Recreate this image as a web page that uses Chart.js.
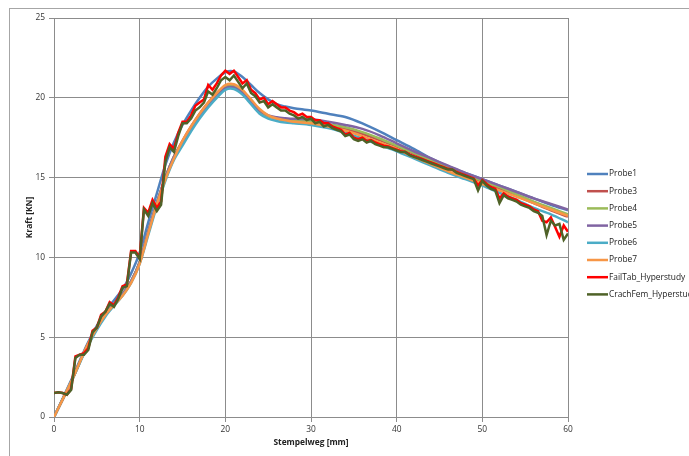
<!DOCTYPE html>
<html>
<head>
<meta charset="utf-8">
<script src="https://cdn.jsdelivr.net/npm/chart.js@4.4.1/dist/chart.umd.min.js"></script>
<style>
    html, body { margin: 0; padding: 0; background: #fff; }
    canvas { display: block; }
</style>
</head>
<body>
<canvas id="kraftChart" width="689" height="456"></canvas>
<script>
// Stempelweg [mm] for the smooth test curves
const weg = [0, 2, 4, 6, 8, 9, 10, 11, 12, 13, 14, 15, 16, 17, 18, 19, 20, 21, 22, 23, 24, 25, 26, 27, 28,
    30, 32, 34, 36, 38, 40, 42, 44, 46, 48, 50, 52, 54, 56, 58, 60];

const probe1 = [0, 2.3, 4.7, 6.6, 8.0, 9.0, 10.3, 12.2, 14.0, 15.8, 17.2, 18.3, 19.2, 20.0, 20.7, 21.2, 21.6, 21.65, 21.3, 20.8, 20.3, 19.9, 19.6, 19.45, 19.35,
    19.2, 19.0, 18.8, 18.4, 17.9, 17.35, 16.8, 16.2, 15.7, 15.3, 14.9, 14.5, 14.1, 13.7, 13.3, 12.95];
const probe3 = [0, 2.2, 4.6, 6.4, 7.7, 8.5, 9.7, 11.6, 13.4, 15.0, 16.3, 17.3, 18.2, 19.0, 19.7, 20.3, 20.7, 20.75, 20.4, 19.8, 19.2, 18.85, 18.7, 18.6, 18.55,
    18.5, 18.3, 18.05, 17.75, 17.35, 16.95, 16.5, 16.05, 15.6, 15.15, 14.75, 14.3, 13.85, 13.4, 12.95, 12.55];
const probe4 = [0, 2.2, 4.6, 6.4, 7.7, 8.5, 9.7, 11.6, 13.4, 15.0, 16.3, 17.2, 18.1, 18.9, 19.6, 20.2, 20.65, 20.7, 20.35, 19.75, 19.15, 18.85, 18.7, 18.62, 18.58,
    18.55, 18.35, 18.15, 17.85, 17.45, 17.0, 16.55, 16.1, 15.65, 15.2, 14.8, 14.4, 13.95, 13.5, 13.1, 12.7];
const probe5 = [0, 2.2, 4.6, 6.4, 7.7, 8.5, 9.7, 11.6, 13.4, 15.0, 16.3, 17.2, 18.1, 18.9, 19.6, 20.2, 20.6, 20.65, 20.3, 19.75, 19.2, 18.9, 18.78, 18.72, 18.68,
    18.65, 18.5, 18.3, 18.05, 17.65, 17.15, 16.65, 16.2, 15.75, 15.3, 14.9, 14.5, 14.1, 13.7, 13.35, 13.0];
const probe6 = [0, 2.2, 4.5, 6.3, 7.6, 8.4, 9.6, 11.4, 13.2, 14.8, 16.1, 17.0, 17.9, 18.7, 19.4, 20.0, 20.5, 20.55, 20.2, 19.6, 19.0, 18.7, 18.55, 18.45, 18.4,
    18.3, 18.1, 17.8, 17.45, 17.05, 16.65, 16.2, 15.75, 15.3, 14.9, 14.5, 14.05, 13.6, 13.1, 12.7, 12.2];
const probe7 = [0, 2.2, 4.6, 6.4, 7.6, 8.4, 9.6, 11.5, 13.3, 14.9, 16.2, 17.3, 18.2, 19.0, 19.7, 20.3, 20.8, 20.85, 20.5, 19.9, 19.3, 18.9, 18.7, 18.6, 18.5,
    18.4, 18.2, 17.95, 17.6, 17.2, 16.8, 16.3, 15.85, 15.4, 15.0, 14.6, 14.2, 13.8, 13.4, 13.0, 12.6];

// Stempelweg [mm] for the two simulation curves
const wegSim = [
    0, 0.5, 1, 1.5, 2, 2.5, 3, 3.5, 4, 4.5,
    5, 5.5, 6, 6.5, 7, 7.5, 8, 8.5, 9, 9.5,
    10, 10.5, 11, 11.5, 12, 12.5, 13, 13.5, 14, 14.5,
    15, 15.5, 16, 16.5, 17, 17.5, 18, 18.5, 19, 19.5,
    20, 20.5, 21, 21.5, 22, 22.5, 23, 23.5, 24, 24.5,
    25, 25.5, 26, 26.5, 27, 27.5, 28, 28.5, 29, 29.5,
    30, 30.5, 31, 31.5, 32, 32.5, 33, 33.5, 34, 34.5,
    35, 35.5, 36, 36.5, 37, 37.5, 38, 38.5, 39, 39.5,
    40, 40.5, 41, 41.5, 42, 42.5, 43, 43.5, 44, 44.5,
    45, 45.5, 46, 46.5, 47, 47.5, 48, 48.5, 49, 49.5,
    50, 50.5, 51, 51.5, 52, 52.5, 53, 53.5, 54, 54.5,
    55, 55.5, 56, 56.5, 57, 57.5, 58, 58.5, 59, 59.5,
    60];

const failTab = [
    1.5, 1.55, 1.5, 1.4, 1.75, 3.8, 3.9, 4.0, 4.3, 5.4,
    5.6, 6.4, 6.6, 7.2, 7.0, 7.5, 8.2, 8.3, 10.4, 10.4,
    10.0, 13.1, 12.8, 13.6, 13.1, 13.5, 16.3, 17.1, 16.8, 17.8,
    18.5, 18.5, 18.9, 19.5, 19.7, 19.9, 20.8, 20.5, 20.9, 21.4,
    21.7, 21.5, 21.7, 21.3, 20.9, 21.1, 20.5, 20.3, 19.9, 20.0,
    19.6, 19.8, 19.6, 19.4, 19.4, 19.2, 19.1, 18.9, 19.0, 18.8,
    18.8, 18.6, 18.6, 18.4, 18.4, 18.2, 18.1, 18.0, 17.7, 17.8,
    17.5, 17.4, 17.5, 17.3, 17.35, 17.2, 17.1, 17.0, 16.95, 16.85,
    16.75, 16.65, 16.6, 16.45, 16.35, 16.25, 16.15, 16.05, 15.95, 15.85,
    15.75, 15.65, 15.55, 15.5, 15.35, 15.25, 15.15, 15.05, 14.95, 14.5,
    14.85, 14.6, 14.4, 14.3, 13.7, 14.0, 13.8, 13.7, 13.6, 13.4,
    13.3, 13.2, 13.0, 12.9, 12.3, 12.2, 12.5, 11.9, 11.3, 12.0,
    11.6];

const crachFem = [
    1.5, 1.55, 1.5, 1.4, 1.7, 3.7, 3.9, 3.9, 4.2, 5.3,
    5.6, 6.3, 6.6, 7.1, 6.9, 7.4, 8.1, 8.2, 10.3, 10.3,
    9.9, 13.0, 12.6, 13.4, 12.9, 13.3, 16.0, 16.9, 16.6, 17.6,
    18.4, 18.4, 18.7, 19.2, 19.4, 19.7, 20.4, 20.2, 20.6, 21.1,
    21.3, 21.1, 21.4, 21.0, 20.6, 20.9, 20.3, 20.1, 19.7, 19.8,
    19.4, 19.6, 19.4, 19.2, 19.2, 19.0, 18.9, 18.7, 18.8, 18.6,
    18.7, 18.4, 18.5, 18.2, 18.3, 18.1, 18.0, 17.9, 17.6, 17.7,
    17.4, 17.3, 17.4, 17.2, 17.3, 17.1, 17.0, 16.9, 16.9, 16.8,
    16.7, 16.6, 16.6, 16.4, 16.3, 16.2, 16.1, 16.0, 15.9, 15.8,
    15.7, 15.6, 15.5, 15.5, 15.3, 15.2, 15.1, 15.0, 14.9, 14.2,
    14.8, 14.5, 14.3, 14.2, 13.4, 13.9, 13.7, 13.6, 13.5, 13.3,
    13.2, 13.1, 12.9, 12.8, 12.6, 11.4, 12.3, 12.0, 12.1, 11.1,
    11.5];

const xTicks = [0, 10, 20, 30, 40, 50, 60];
const yTicks = [0, 5, 10, 15, 20, 25];

const gridColor = '#8c8c8c';
const fontFamily = "'Open Sans', 'Liberation Sans', sans-serif";

function toPoints(xs, ys) {
    return ys.map((y, i) => ({ x: xs[i], y: y }));
}

function series(label, xs, ys, color, order, tension) {
    return {
        label: label,
        data: toPoints(xs, ys),
        borderColor: color,
        backgroundColor: color,
        borderWidth: 2.5,
        pointRadius: 0,
        tension: tension,
        order: order, // later series on top, like in the original
    };
}

// Outer frame of the chart object
const framePlugin = {
    id: 'frame',
    beforeDraw(chart) {
        const ctx = chart.ctx;
        ctx.save();
        ctx.fillStyle = '#fff';
        ctx.fillRect(0, 0, chart.width, chart.height);
        ctx.strokeStyle = '#a6a6a6';
        ctx.lineWidth = 1;
        ctx.strokeRect(9.5, 8.5, chart.width + 20, chart.height + 20);
        ctx.restore();
    }
};

// Legend on the right side, drawn by hand for exact placement
const legendPlugin = {
    id: 'sideLegend',
    afterDraw(chart) {
        const ctx = chart.ctx;
        const left = 587;
        const top = 174;
        const step = 17.2;
        ctx.save();
        ctx.font = '8.4px ' + fontFamily;
        ctx.textBaseline = 'middle';
        chart.data.datasets.forEach((ds, i) => {
            const y = top + i * step;
            ctx.strokeStyle = ds.borderColor;
            ctx.lineWidth = 2.5;
            ctx.beginPath();
            ctx.moveTo(left, y);
            ctx.lineTo(left + 21, y);
            ctx.stroke();
            ctx.fillStyle = '#222';
            ctx.fillText(ds.label, left + 22, y);
        });
        ctx.restore();
    }
};

const ctx = document.getElementById('kraftChart').getContext('2d');
const chart = new Chart(ctx, {
    type: 'line',
    data: {
        datasets: [
            series('Probe1', weg, probe1, '#4F81BD', 8, 0.3),
            series('Probe3', weg, probe3, '#C0504D', 7, 0.3),
            series('Probe4', weg, probe4, '#9BBB59', 6, 0.3),
            series('Probe5', weg, probe5, '#8064A2', 5, 0.3),
            series('Probe6', weg, probe6, '#4BACC6', 4, 0.3),
            series('Probe7', weg, probe7, '#F79646', 3, 0.3),
            series('FailTab_Hyperstudy', wegSim, failTab, '#FF0000', 2, 0),
            series('CrachFem_Hyperstudy', wegSim, crachFem, '#4F6228', 1, 0),
        ]
    },
    options: {
        responsive: false,
        animation: false,
        layout: {
            padding: { left: 20, right: 121, top: 18, bottom: 0 }
        },
        plugins: {
            legend: { display: false },
            tooltip: { enabled: false },
        },
        scales: {
            x: {
                type: 'linear',
                min: 0,
                max: 60,
                afterBuildTicks: (scale) => {
                    scale.ticks = xTicks.map(v => ({ value: v }));
                },
                afterFit: (scale) => { scale.height = 39; },
                grid: { color: gridColor, tickLength: 5 },
                border: { color: gridColor },
                ticks: {
                    padding: 3,
                    color: '#333',
                    font: { family: fontFamily, size: 8.4 },
                },
                title: {
                    display: true,
                    text: 'Stempelweg [mm]',
                    color: '#222',
                    font: { family: fontFamily, size: 8.4, weight: 'bold' },
                    padding: { top: 0, bottom: 8 },
                },
            },
            y: {
                type: 'linear',
                min: 0,
                max: 25,
                afterBuildTicks: (scale) => {
                    scale.ticks = yTicks.map(v => ({ value: v }));
                },
                afterFit: (scale) => { scale.width = 34; },
                grid: { color: gridColor, tickLength: 5 },
                border: { color: gridColor },
                ticks: {
                    padding: 4,
                    color: '#333',
                    font: { family: fontFamily, size: 8.4 },
                },
                title: {
                    display: true,
                    text: 'Kraft [KN]',
                    color: '#222',
                    font: { family: fontFamily, size: 8.4, weight: 'bold' },
                    padding: { top: 5, bottom: 0 },
                },
            },
        },
    },
    plugins: [framePlugin, legendPlugin],
});
</script>
</body>
</html>
